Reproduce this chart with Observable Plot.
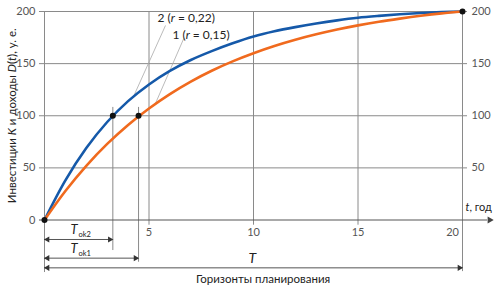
<!DOCTYPE html>
<html><head><meta charset="utf-8">
<script src="https://cdn.jsdelivr.net/npm/d3@7"></script>
<script src="https://cdn.jsdelivr.net/npm/@observablehq/plot@0.6"></script>
<style>body{margin:0;background:#fff;font-family:Lato,sans-serif} svg{display:block}</style>
</head><body><div id="chart"></div>
<script>
// Years of the planning horizon
const years = [0,1,2,3,4,5,6,7,8,9,10,11,12,13,14,15,16,17,18,19,20];
// Curve 2 (r = 0,22), blue
const income2 = [0,38,69,94,114,130,143,153.5,162,169.5,176,181,185,188.5,191.5,194,195.8,197.3,198.5,199.4,200];
// Curve 1 (r = 0,15), orange
const income1 = [0,27.8,52,73,91.2,107,120.8,132.8,143.2,152.2,160,166.9,172.9,178.1,182.7,186.7,190.2,193.2,195.9,198.2,200];
const seriesNames = ["2 (r = 0,22)", "1 (r = 0,15)"];
const seriesColors = ["#1559a9", "#f06a1e"];
// Payback periods (investment K = 100)
const investment = 100;
const paybackYears = [3.27, 4.5];
const paybackLabels = ["T ok2", "T ok1"];
const horizon = 20;
const maxIncome = 200;
const yTicks = [0, 50, 100, 150, 200];
const yTicksRight = [50, 100, 150, 200];
const xTicks = [5, 10, 15];
const yLabel = "Инвестиции K и доходы D(t), у. е.";
const xLabel = "t, год";
const horizonLabel = "T";
const bottomLabel = "Горизонты планирования";

const curves = [];
years.forEach((t, i) => {
  curves.push({t, v: income2[i], s: seriesNames[0]});
  curves.push({t, v: income1[i], s: seriesNames[1]});
});

// annotation layout (data units)
const arrowRows = [
  {x1: 0, x2: paybackYears[0], y: -18.7, lab: paybackLabels[0], ly: -9.3, ldrop: -29.3},
  {x1: 0, x2: paybackYears[1], y: -36.6, lab: paybackLabels[1], ly: -27.5, ldrop: -40.5},
  {x1: 0, x2: horizon, y: -45.9}
];
const grey = "#8a8a8a";
const ink = "#222";

const plot = Plot.plot({
  width: 500, height: 288,
  marginLeft: 44, marginRight: 38, marginTop: 11, marginBottom: 68.5,
  x: {domain: [0, horizon], axis: null},
  y: {domain: [0, maxIncome], axis: null},
  style: {fontFamily: "Lato, sans-serif", background: "#fff"},
  marks: [
    // horizontal grid with ticks on both sides
    Plot.ruleY(yTicksRight, {x1: -0.24, x2: horizon + 0.24, stroke: grey, strokeWidth: 1}),
    // vertical grid
    Plot.ruleX(xTicks, {y1: -5, y2: maxIncome, stroke: grey, strokeWidth: 1}),
    Plot.ruleX([0], {y1: -50.4, y2: maxIncome, stroke: grey, strokeWidth: 1}),
    Plot.ruleX([horizon], {y1: -49.5, y2: maxIncome, stroke: grey, strokeWidth: 1}),
    // payback droplines
    Plot.ruleX(arrowRows.slice(0, 2), {x: "x2", y1: "ldrop", y2: 108, stroke: grey, strokeWidth: 1}),
    // x axis with arrow
    Plot.ruleY([0], {x1: -0.24, x2: 21.2, stroke: "#555", strokeWidth: 1}),
    Plot.dot([{x: 21.3, y: 0}], {x: "x", y: "y", symbol: "triangle", rotate: 90, r: 2.6, fill: "#444", stroke: null}),
    // leader lines
    Plot.link([{x1: 5.79, y1: 186.6, x2: 4.26, y2: 118.5}, {x1: 6.67, y1: 174.4, x2: 5.31, y2: 111.8}],
      {x1: "x1", y1: "y1", x2: "x2", y2: "y2", stroke: "#aaa", strokeWidth: 0.8}),
    // curves
    Plot.line(curves, {x: "t", y: "v", z: "s", stroke: "s", strokeWidth: 2.6, curve: "catmull-rom"}),
    // dots
    Plot.dot([{x: 0, y: 0}, {x: horizon, y: maxIncome}, {x: paybackYears[0], y: investment}, {x: paybackYears[1], y: investment}],
      {x: "x", y: "y", r: 3, fill: "#111"}),
    // dimension arrows
    Plot.ruleY(arrowRows, {x1: "x1", x2: "x2", y: "y", stroke: "#555", strokeWidth: 1}),
    Plot.dot(arrowRows, {x: "x1", y: "y", symbol: "triangle", rotate: -90, r: 2.3, dx: 3, fill: "#333", stroke: null}),
    Plot.dot(arrowRows, {x: "x2", y: "y", symbol: "triangle", rotate: 90, r: 2.3, dx: -3, fill: "#333", stroke: null}),
    Plot.text(arrowRows.slice(0, 2), {x: 1.24, y: "ly", text: "lab", textAnchor: "start", fontSize: 13, fill: ink}),
    Plot.text([horizonLabel], {x: 9.94, y: -37, text: d => d, fontSize: 14, fontStyle: "italic", fill: ink}),
    Plot.text([bottomLabel], {x: 10.46, y: -57.3, text: d => d, fontSize: 11.5, fill: ink}),
    // tick labels
    Plot.text(yTicks, {x: 0, y: d => d, text: d => String(d), dx: -9, textAnchor: "end", fontSize: 11, fill: "#555"}),
    Plot.text(yTicksRight, {x: horizon, y: d => d, text: d => String(d), dx: 9, textAnchor: "start", fontSize: 11, fill: "#555"}),
    Plot.text(xTicks, {x: d => d, y: 0, text: d => String(d), dy: 12, fontSize: 11, fill: "#555"}),
    Plot.text([horizon], {x: d => d, y: 0, text: d => String(d), dy: 12, dx: -10, fontSize: 11, fill: "#555"}),
    Plot.text([xLabel], {x: horizon, y: 0, text: d => d, dx: 3, dy: -13, textAnchor: "start", fontSize: 11, fill: ink}),
    // series labels
    Plot.text([{x: 5.41, y: 193.3, s: seriesNames[0]}, {x: 6.12, y: 176.9, s: seriesNames[1]}],
      {x: "x", y: "y", text: "s", textAnchor: "start", fontSize: 12, fill: ink}),
    // y label
    Plot.text([yLabel], {frameAnchor: "left", y: 100, text: d => d, dx: -32, rotate: -90, textAnchor: "middle", fontSize: 11.5, fill: ink})
  ],
  color: {domain: seriesNames, range: seriesColors}
});

// rich text (italic letters, subscripts)
const rich = {
  "2 (r = 0,22)": ["2 (", ["r", "i"], " = 0,22)"],
  "1 (r = 0,15)": ["1 (", ["r", "i"], " = 0,15)"],
  "T ok2": [["T", "i"], ["ok2", "sub"]],
  "T ok1": [["T", "i"], ["ok1", "sub"]],
  "t, год": [["t", "i"], ", год"],
  [yLabel]: ["Инвестиции ", ["K", "i"], " и доходы ", ["D", "i"], "(", ["t", "i"], "), у. е."]
};
d3.select(plot).selectAll("text").each(function() {
  const key = this.textContent;
  if (!(key in rich)) return;
  const el = d3.select(this);
  el.text(null);
  for (const part of rich[key]) {
    const [txt, kind] = Array.isArray(part) ? part : [part, null];
    const ts = el.append("tspan").text(txt);
    if (kind === "i") ts.attr("font-style", "italic");
    if (kind === "sub") ts.attr("font-size", 7.5).attr("dy", "0.45em").attr("dx", 1);
  }
});
document.getElementById("chart").appendChild(plot);
</script>
</body></html>
